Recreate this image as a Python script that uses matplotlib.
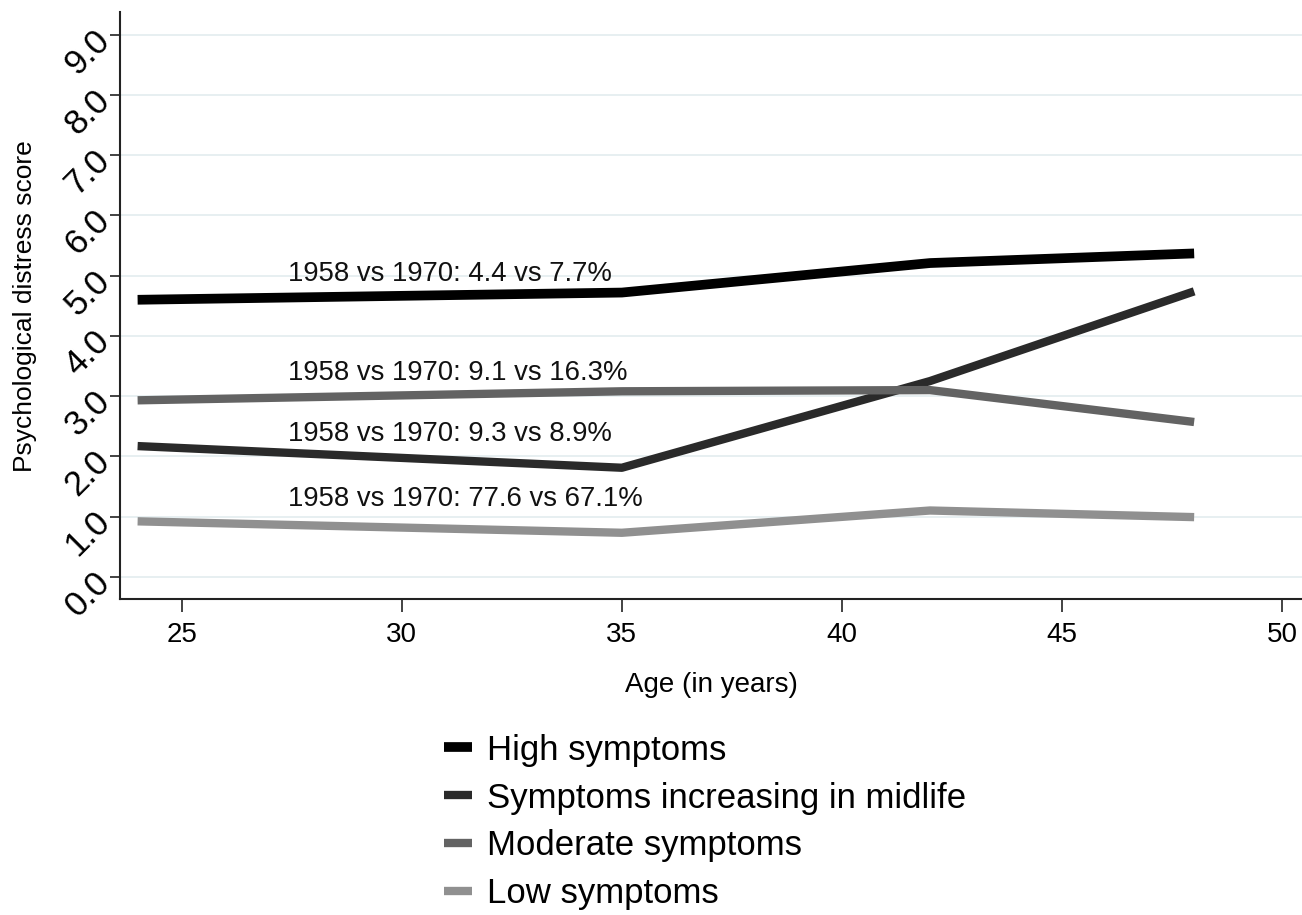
import matplotlib
matplotlib.use('Agg')
import matplotlib.pyplot as plt

plt.rcParams['font.family'] = ['Liberation Sans', 'DejaVu Sans']

# ages at which distress was measured
ages = [24, 35, 42, 48]

# mean psychological distress score per trajectory class
high = [4.60, 4.72, 5.21, 5.37]
increasing = [2.17, 1.81, 3.25, 4.74]
moderate = [2.93, 3.08, 3.10, 2.57]
low = [0.92, 0.73, 1.10, 0.99]

labels = ['High symptoms', 'Symptoms increasing in midlife',
          'Moderate symptoms', 'Low symptoms']
colors = ['#000000', '#2a2a2a', '#636363', '#909090']
widths = [7, 6, 6, 6]

# cohort prevalence notes (1958 vs 1970)
notes = ['1958 vs 1970: 4.4 vs 7.7%', '1958 vs 1970: 9.1 vs 16.3%',
         '1958 vs 1970: 9.3 vs 8.9%', '1958 vs 1970: 77.6 vs 67.1%']
note_y = [4.92, 3.27, 2.26, 1.18]
note_x = 27.42

yticks = [0, 1, 2, 3, 4, 5, 6, 7, 8, 9]
xticks = [25, 30, 35, 40, 45, 50]

fig = plt.figure(figsize=(13.02, 9.15), dpi=100)
ax = fig.add_axes([120 / 1302, 1 - 599 / 915, 1182 / 1302, 587 / 915])

for y in yticks:
    ax.axhline(y, color='#e5eef0', lw=1.3, zorder=0)

lines = []
for vals, lab, col, w in zip([high, increasing, moderate, low], labels, colors, widths):
    ln, = ax.plot(ages, vals, color=col, lw=w, label=lab,
                  solid_capstyle='butt', solid_joinstyle='round', zorder=3)
    lines.append(ln)

for txt, yy in zip(notes, note_y):
    ax.text(note_x, yy, txt, fontsize=19.8, ha='left', va='baseline', color='#111111')

ax.set_xlim(23.6, 50.45)
ax.set_ylim(-0.37, 9.38)
ax.set_xticks(xticks)
ax.set_yticks(yticks)
ax.set_yticklabels(['%.1f' % v for v in yticks])
plt.setp(ax.get_yticklabels(), rotation=45, rotation_mode='anchor',
         ha='right', va='center')

for side in ['top', 'right']:
    ax.spines[side].set_visible(False)
for side in ['left', 'bottom']:
    ax.spines[side].set_linewidth(1.5)
    ax.spines[side].set_color('#222222')

ax.tick_params(axis='x', length=9.5, width=1.2, color='#222222',
               labelsize=20, pad=7)
ax.tick_params(axis='y', length=7, width=1.2, color='#222222',
               labelsize=25, pad=4)

fig.text(711 / 1302, 1 - 685 / 915, 'Age (in years)', fontsize=20,
         ha='center', va='center')
fig.text(25 / 1302, 1 - 306 / 915, 'Psychological distress score',
         fontsize=19, rotation=90, ha='center', va='center')

fig.legend(handles=lines, loc='center left',
           bbox_to_anchor=(444 / 1302, 1 - 822 / 915),
           frameon=False, fontsize=25, handlelength=0.8,
           handletextpad=0.45, labelspacing=0.43,
           borderpad=0, borderaxespad=0)

fig.savefig('out.png', dpi=100)
